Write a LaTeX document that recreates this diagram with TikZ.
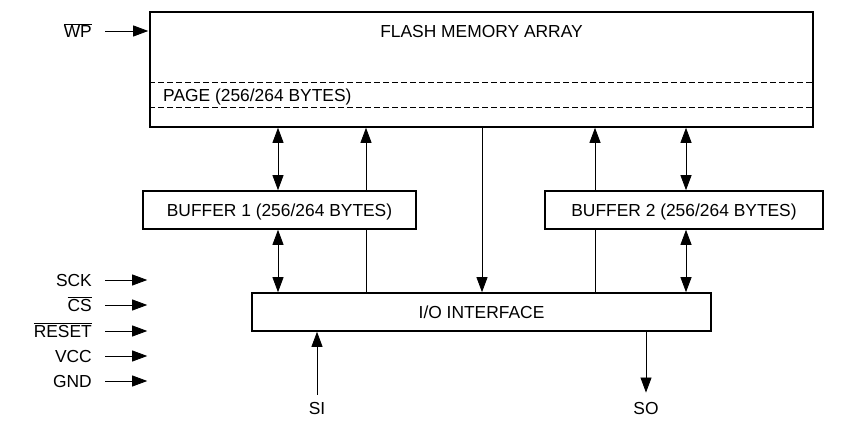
\documentclass[tikz,border=0pt]{standalone}
\usepackage{fontspec}
\setmainfont{Liberation Sans}
\usetikzlibrary{arrows.meta}
\newcommand{\ovl}[1]{$\overline{\mbox{#1}}$}

\begin{document}
\begin{tikzpicture}[x=1pt,y=-1pt,>={Triangle[length=15pt,width=11pt]},
	every node/.style={font=\fontsize{17.4}{20}\selectfont,inner sep=0pt,text height=12.5pt,text depth=0pt},
	every edge/.style={draw,line width=0.8pt},
	box/.style={draw,line width=1.6pt},
	pinlabel/.style={anchor=east}]
	\useasboundingbox (0,0) rectangle (841,446);

	% blocks
	\node[box,minimum width=663pt,minimum height=115pt] (flash) at (481.5,69.5) {};
	\node (flashtext) at (481.5,31) {FLASH MEMORY ARRAY};
	\node[anchor=west] (page) at (163,95) {PAGE (256/264 BYTES)};
	\node[box,minimum width=273pt,minimum height=38pt] (buf1) at (279.5,210) {BUFFER 1 (256/264 BYTES)};
	\node[box,minimum width=278pt,minimum height=38pt] (buf2) at (684,210) {BUFFER 2 (256/264 BYTES)};
	\node[box,minimum width=459pt,minimum height=38pt] (io) at (481.5,312) {I/O INTERFACE};

	\draw[line width=0.8pt,dash pattern=on 6pt off 3pt] (flash.west |- 0,82) -- (flash.east |- 0,82);
	\draw[line width=0.8pt,dash pattern=on 6pt off 3pt] (flash.west |- 0,107) -- (flash.east |- 0,107);

	% pins
	\node[pinlabel] (wp) at (92,31) {\ovl{WP}};
	\node[pinlabel] (sck) at (92,280) {SCK};
	\node[pinlabel] (cs) at (92,305) {\ovl{CS}};
	\node[pinlabel] (reset) at (92,331) {\ovl{RESET}};
	\node[pinlabel] (vcc) at (92,356) {VCC};
	\node[pinlabel] (gnd) at (92,381) {GND};
	\node (si) at (317,408) {SI};
	\node (so) at (646,408) {SO};

	\coordinate (x1) at (278,0);
	\coordinate (x2) at (366,0);
	\coordinate (x3) at (482,0);
	\coordinate (x4) at (595,0);
	\coordinate (x5) at (686,0);

	\path
		(flash.south -| x1) edge [<->] (buf1.north -| x1)
		(buf1.south -| x1) edge [<->] (io.north -| x1)
		(io.north -| x2) edge (buf1.south -| x2)
		(buf1.north -| x2) edge [->] (flash.south -| x2)
		(flash.south -| x3) edge [->] (io.north -| x3)
		(io.north -| x4) edge (buf2.south -| x4)
		(buf2.north -| x4) edge [->] (flash.south -| x4)
		(flash.south -| x5) edge [<->] (buf2.north -| x5)
		(buf2.south -| x5) edge [<->] (io.north -| x5);

	\path[shorten <=13pt]
		(wp.east) edge [->,shorten >=1pt] (wp.east -| flash.west)
		(sck.east) edge [->,shorten >=2pt] (sck.east -| flash.west)
		(cs.east) edge [->,shorten >=2pt] (cs.east -| flash.west)
		(reset.east) edge [->,shorten >=2pt] (reset.east -| flash.west)
		(vcc.east) edge [->,shorten >=2pt] (vcc.east -| flash.west)
		(gnd.east) edge [->,shorten >=2pt] (gnd.east -| flash.west);

	\path
		(si.north) edge [->,shorten <=7pt] (io.south -| si)
		(io.south -| so) edge [->,shorten >=9pt] (so.north);
\end{tikzpicture}
\end{document}
